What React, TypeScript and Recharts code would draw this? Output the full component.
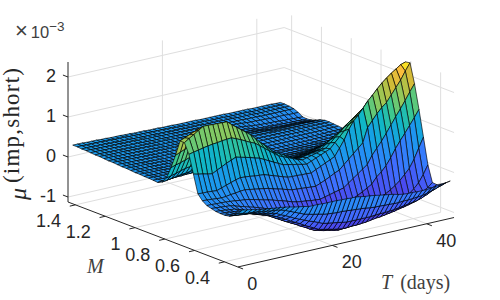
import { Scatter, ScatterChart, XAxis, YAxis } from 'recharts';

const tValues = Array.from({ length: 45 }, (_, i) => i + 1);
const mValues = [0.31, 0.34, 0.37, 0.4, 0.43, 0.46, 0.49, 0.52, 0.55, 0.58, 0.61, 0.64, 0.67, 0.7, 0.73, 0.76, 0.79, 0.82, 0.85, 0.88, 0.91, 0.94, 0.97, 1.0, 1.03, 1.06, 1.09, 1.12, 1.15, 1.18, 1.21, 1.24, 1.27, 1.3, 1.33, 1.36, 1.39, 1.42, 1.45];

// surface height at each M, T = 1..45, in units of 1e-5
const zM031 = [27,25,23,20,18,16,15,13,12,10,8,5,3,1,-2,-2,-2,-3,-3,-3,-3,-4,-4,-5,-5,-7,-9,-10,-12,-14,-16,-18,-20,-23,-25,-26,-26,-27,-27,-27,-26,-24,-23,-21,-19];
const zM034 = [15,12,10,9,8,6,4,2,1,-1,-5,-10,-15,-20,-25,-28,-31,-33,-36,-38,-39,-40,-40,-41,-42,-43,-44,-45,-47,-48,-48,-49,-49,-50,-50,-49,-49,-48,-47,-46,-43,-39,-36,-32,-28];
const zM037 = [5,4,2,1,0,-2,-5,-8,-11,-14,-20,-25,-31,-37,-42,-47,-52,-56,-61,-66,-68,-70,-72,-74,-76,-76,-76,-76,-76,-76,-75,-74,-74,-73,-72,-70,-68,-66,-64,-62,-58,-53,-47,-41,-35];
const zM040 = [-1,-2,-3,-4,-5,-8,-12,-15,-19,-23,-29,-35,-41,-48,-54,-60,-67,-73,-79,-85,-88,-90,-93,-95,-97,-97,-96,-96,-95,-94,-92,-90,-89,-87,-85,-83,-80,-78,-75,-72,-68,-61,-54,-47,-41];
const zM043 = [-3,-4,-5,-7,-8,-12,-16,-20,-24,-28,-34,-41,-47,-54,-60,-66,-73,-79,-86,-92,-95,-98,-100,-103,-105,-104,-103,-102,-101,-100,-98,-96,-94,-92,-90,-88,-85,-82,-79,-76,-71,-64,-57,-50,-40];
const zM046 = [-3,-4,-5,-7,-8,-12,-16,-20,-24,-28,-34,-40,-47,-54,-60,-66,-72,-78,-84,-90,-93,-96,-98,-101,-103,-102,-101,-100,-99,-98,-96,-93,-90,-88,-85,-82,-79,-76,-73,-70,-62,-52,-40,-22,0];
const zM049 = [-2,-3,-4,-6,-7,-11,-15,-20,-24,-28,-33,-38,-43,-49,-54,-59,-65,-70,-75,-80,-82,-84,-86,-88,-90,-89,-88,-87,-86,-85,-82,-78,-74,-70,-65,-60,-55,-48,-40,-30,-18,-5,15,40,65];
const zM052 = [1,0,-1,-2,-3,-6,-10,-13,-17,-20,-24,-28,-32,-36,-40,-44,-49,-53,-58,-62,-64,-65,-67,-68,-70,-69,-67,-66,-64,-62,-56,-50,-44,-37,-30,-15,-5,8,25,45,62,78,95,112,130];
const zM055 = [4,4,3,3,2,1,0,-2,-3,-5,-8,-11,-14,-17,-20,-24,-27,-31,-35,-38,-40,-41,-43,-44,-45,-42,-39,-36,-33,-30,-21,-12,-3,6,15,35,50,65,82,100,118,135,153,172,190];
const zM058 = [12,11,10,9,8,9,11,12,14,15,13,11,9,7,5,1,-2,-5,-9,-12,-13,-14,-15,-16,-17,-12,-7,-1,5,10,21,32,43,54,65,100,115,130,142,152,168,184,200,220,238];
const zM061 = [25,24,24,23,22,26,30,34,38,41,40,39,37,36,35,31,27,23,19,15,14,14,13,13,12,18,23,29,34,40,58,76,100,118,130,145,160,172,185,197,207,216,224,232,236];
const zM064 = [70,67,65,62,60,66,72,78,83,88,85,82,79,75,72,66,60,54,48,42,40,37,35,32,30,35,40,45,50,55,68,80,92,105,118,128,138,148,160,170,178,185,192,199,205];
const zM067 = [115,118,120,123,125,127,128,130,131,132,127,122,116,110,105,96,87,78,69,60,55,50,45,40,36,39,42,45,49,52,63,74,84,95,105,114,123,132,141,150,156,162,168,174,180];
const zM070 = [140,148,155,163,170,170,169,169,168,168,158,149,140,131,122,110,98,87,76,65,59,53,46,40,34,36,39,41,43,46,55,64,72,81,90,97,104,111,118,125,131,137,143,149,155];
const zM073 = [140,145,150,155,160,160,160,160,160,160,150,140,131,121,112,101,90,80,69,58,52,46,40,34,28,30,31,33,36,38,45,52,58,65,72,78,83,89,94,100,106,112,118,124,130];
const zM076 = [100,105,110,115,120,122,123,125,126,128,120,112,104,96,88,80,71,63,54,46,41,36,31,27,22,24,25,27,28,30,35,40,45,50,55,60,65,69,74,78,84,89,95,100,105];
const zM079 = [65,69,72,76,80,82,84,86,88,90,84,79,73,68,62,56,50,45,39,33,30,26,23,19,16,17,19,20,22,23,26,30,33,37,40,44,47,51,54,58,63,68,74,80,85];
const zM082 = [35,38,41,45,48,50,52,54,56,58,54,50,47,43,40,36,33,29,26,22,20,18,15,13,11,12,13,14,16,17,19,21,24,26,28,31,34,36,39,42,46,50,55,60,65];
const zM085 = [20,22,24,26,28,29,31,32,34,35,33,31,29,27,25,23,21,18,16,14,13,12,10,9,8,9,10,10,11,12,13,14,15,17,18,20,22,24,26,28,31,35,38,42,45];
const zM088 = [15,16,16,17,18,18,19,19,20,20,19,18,17,16,15,14,13,11,10,9,9,8,7,7,6,6,7,7,8,8,9,9,10,11,12,13,14,15,17,18,20,23,25,28,30];
const zM091 = [16,16,15,15,15,15,15,14,14,14,13,13,12,12,11,10,9,9,8,7,7,6,6,5,5,5,5,6,6,6,6,7,7,8,8,9,10,10,11,12,13,15,16,18,20];
const zM094 = [17,17,16,16,16,15,15,14,13,12,12,11,11,10,10,9,8,8,7,6,6,6,5,5,5,5,5,6,6,6,6,6,6,6,6,7,7,8,8,9,10,11,12,14,15];
const zM097 = [17,17,16,16,16,15,14,14,13,12,12,11,11,10,10,9,9,8,8,7,7,7,6,6,6,6,6,6,5,5,5,5,5,5,5,5,6,6,7,7,8,9,9,10,11];
const zM100 = [18,18,17,17,17,16,15,14,13,12,12,12,11,11,11,10,10,9,9,8,8,8,7,7,7,7,7,6,6,6,6,6,6,6,6,6,6,7,7,7,8,8,9,9,10];
const zM103 = [18,18,18,17,17,16,15,15,14,13,13,13,12,12,12,12,11,11,10,10,10,10,10,9,9,9,9,9,8,8,8,8,8,8,8,8,8,8,8,8,8,9,9,9,10];
const zM106 = [19,19,18,18,18,17,16,16,15,14,14,14,13,13,13,13,12,12,11,11,11,11,10,10,10,10,10,10,10,10,10,10,10,10,10,10,10,10,10,10,10,10,11,11,11];
const zM109 = [20,20,19,19,19,18,17,17,16,15,15,15,14,14,14,14,14,13,13,13,13,12,12,12,12,12,12,12,12,12,12,12,12,12,12,12,12,12,12,12,12,12,12,12,12];
const zM112 = [20,20,20,19,19,18,18,17,17,16,16,16,15,15,15,15,15,14,14,14,14,14,14,13,13,13,13,13,13,13,13,13,13,13,13,13,13,13,13,13,13,13,13,13,13];
const zM115 = [21,21,20,20,20,19,19,18,18,17,17,17,16,16,16,16,16,15,15,15,15,15,15,14,14,14,14,14,14,14,14,14,14,13,13,13,13,13,13,13,13,13,13,13,13];
const zM118 = [22,22,21,21,21,20,20,19,19,18,18,18,17,17,17,17,17,16,16,16,16,15,15,15,14,14,14,14,14,14,14,13,13,12,11,11,11,11,11,11,11,11,10,10,10];
const zM121 = [22,22,22,21,21,21,20,20,19,19,19,19,18,18,18,18,17,17,17,16,16,16,15,15,14,14,14,14,14,13,12,11,10,9,8,8,8,7,7,7,7,6,6,5,5];
const zM124 = [23,23,23,22,22,22,21,21,20,20,20,19,19,18,18,18,17,17,17,16,16,16,15,15,14,14,14,13,13,12,10,9,8,6,5,5,4,4,3,3,3,2,2,1,1];
const zM127 = [24,24,23,23,23,23,22,22,21,21,21,20,20,19,19,19,18,18,18,17,17,16,16,15,14,14,14,13,13,12,10,9,7,5,4,3,3,2,2,1,1,0,0,-1,-1];
const zM130 = [24,24,24,23,23,23,22,22,21,21,21,21,20,20,20,20,19,19,18,18,17,17,16,16,15,15,15,14,14,13,12,10,9,7,6,5,5,4,4,3,2,2,1,1,0];
const zM133 = [25,25,25,24,24,24,23,23,22,22,22,21,21,20,20,20,19,19,19,18,18,18,17,17,16,16,16,15,15,14,13,13,12,11,10,10,9,9,8,8,8,8,7,7,7];
const zM136 = [26,26,25,25,25,24,24,24,23,23,23,22,22,21,21,21,20,20,20,19,19,18,18,18,17,17,16,16,15,15,15,14,14,14,13,13,13,12,12,12,12,12,12,12,12];
const zM139 = [26,26,26,25,25,25,24,24,23,23,23,22,22,21,21,21,20,20,20,19,19,19,18,18,18,18,17,17,17,17,16,16,16,15,15,15,15,14,14,14,14,14,14,14,14];
const zM142 = [27,27,26,26,26,26,25,25,24,24,24,23,23,22,22,22,21,21,21,20,20,19,19,18,18,18,18,18,17,17,17,17,16,16,16,16,16,15,15,15,15,15,15,15,15];
const zM145 = [27,27,27,26,26,26,25,25,24,24,24,23,23,22,22,22,21,21,21,20,20,20,19,19,19,19,19,18,18,18,18,18,18,17,17,17,17,17,16,16,16,16,16,15,15];

const zRows = [zM031, zM034, zM037, zM040, zM043, zM046, zM049, zM052, zM055, zM058, zM061, zM064, zM067, zM070, zM073, zM076, zM079, zM082, zM085, zM088, zM091, zM094, zM097, zM100, zM103, zM106, zM109, zM112, zM115, zM118, zM121, zM124, zM127, zM130, zM133, zM136, zM139, zM142, zM145];

const zTicks = [-1, 0, 1, 2];
const mTicks = [1.4, 1.2, 1, 0.8, 0.6, 0.4];
const tTicks = [0, 20, 40];
const parula = ['#3e26a8', '#4a4af0', '#3e70ff', '#2a8af8', '#169ee8', '#10b6c6', '#3cc890', '#8fc95c', '#cfbb37', '#fbbe3c', '#f9fb15'];

const T_MAX = 45.8;
const M_MIN = 0.31;
const M_MAX = 1.45;
const Z_MIN = -1.125;
const Z_MAX = 2.375;
const GRID = '#dedede';
const INK = '#262626';

// hand-fitted view of the 3D box: everything lands in page pixels
const project = (t: number, m: number, z: number) => ({
  x: 68 + 149 * (M_MAX - m) + 4.72 * t,
  y: 202 + 57 * (M_MAX - m) - 1.08 * t - 40 * (z - Z_MIN),
});

function colorAt(z: number) {
  const f = Math.min(0.9999, Math.max(0, (z + 1.05) / 3.4)) * (parula.length - 1);
  const i = Math.floor(f);
  const hex = (c: string, k: number) => parseInt(c.slice(k, k + 2), 16);
  const mix = (k: number) => Math.round(hex(parula[i], k) + (hex(parula[i + 1], k) - hex(parula[i], k)) * (f - i));
  return `rgb(${mix(1)},${mix(3)},${mix(5)})`;
}

const quads = [] as { x: number; y: number; depth: number; fill: string; corners: { x: number; y: number }[] }[];
mValues.slice(0, -1).forEach((m, i) => {
  tValues.slice(0, -1).forEach((t, j) => {
    const m2 = mValues[i + 1];
    const t2 = tValues[j + 1];
    const corners = [
      project(t, m, zRows[i][j] / 100),
      project(t2, m, zRows[i][j + 1] / 100),
      project(t2, m2, zRows[i + 1][j + 1] / 100),
      project(t, m2, zRows[i + 1][j] / 100),
    ];
    quads.push({
      x: corners[0].x,
      y: corners[0].y,
      depth: project(t, m, Z_MIN).y + project(t2, m2, Z_MIN).y,
      fill: colorAt(zRows[i][j] / 100),
      corners,
    });
  });
});
quads.sort((a, b) => a.depth - b.depth);

const gridLines = [
  ...zTicks.map((z) => [project(0, M_MAX, z), project(T_MAX, M_MAX, z), project(T_MAX, M_MIN, z)]),
  ...[20, 40].map((t) => [project(t, M_MIN, Z_MIN), project(t, M_MAX, Z_MIN), project(t, M_MAX, Z_MAX)]),
  ...mTicks.map((m) => [project(0, m, Z_MIN), project(T_MAX, m, Z_MIN), project(T_MAX, m, Z_MAX)]),
];

const axisLines = [
  [project(0, M_MAX, Z_MAX), project(0, M_MAX, Z_MIN), project(0, M_MIN, Z_MIN), project(T_MAX, M_MIN, Z_MIN)],
  ...zTicks.map((z) => [project(0, M_MAX, z), project(0, M_MAX + 0.034, z)]),
  ...mTicks.map((m) => [project(0, m, Z_MIN), project(-1.2, m, Z_MIN)]),
  ...tTicks.map((t) => [project(t, M_MIN, Z_MIN), project(t, M_MIN - 0.035, Z_MIN)]),
];

const tickTexts = [
  ...zTicks.map((z) => ({ x: 56, y: project(0, M_MAX, z).y - 1, text: String(z), anchor: 'end' })),
  ...mTicks.map((m) => {
    const p = project(0, m, Z_MIN);
    return { x: p.x - 14.5, y: p.y + 16, text: String(m), anchor: 'end' };
  }),
  ...tTicks.map((t) => {
    const p = project(t, M_MIN, Z_MIN);
    return { x: p.x + 9.5, y: p.y + 17, text: String(t), anchor: 'start' };
  }),
];

function QuadShape(props: any) {
  const { cx, cy, payload } = props;
  const dx = cx - payload.x;
  const dy = cy - payload.y;
  const pts = payload.corners.map((c: { x: number; y: number }) => `${c.x + dx},${c.y + dy}`).join(' ');
  return <polygon points={pts} fill={payload.fill} stroke="#000" strokeWidth={0.65} strokeLinejoin="round" />;
}

function TickText(props: any) {
  const { cx, cy, payload } = props;
  return (
    <text x={cx} y={cy} textAnchor={payload.anchor} dominantBaseline="central" fontFamily="Liberation Sans" fontSize={18} fill={INK}>
      {payload.text}
    </text>
  );
}

function Exponent(props: any) {
  const { cx, cy } = props;
  return (
    <text x={cx} y={cy} fontFamily="Liberation Sans" fontSize={16.5} fill="#404040">
      <tspan fontSize={22}>×</tspan>
      <tspan dx={3}>10</tspan>
      <tspan dy={-7} fontSize={13.5}>−3</tspan>
    </text>
  );
}

function ZTitle(props: any) {
  const { cx, cy } = props;
  return (
    <g fontFamily="Liberation Serif" fill={INK}>
      <text transform={`rotate(-90 ${cx} ${cy})`} x={cx} y={cy} fontSize={24} fontStyle="italic">μ</text>
      <text transform={`rotate(-90 ${cx - 7.5} ${cy - 17})`} x={cx - 7.5} y={cy - 17} fontSize={23} textLength={115} lengthAdjust="spacing">(imp,short)</text>
    </g>
  );
}

function MTitle(props: any) {
  const { cx, cy } = props;
  return (
    <text x={cx} y={cy} fontFamily="Liberation Serif" fontStyle="italic" fontSize={20} fill="#404040">M</text>
  );
}

function TTitle(props: any) {
  const { cx, cy } = props;
  return (
    <text x={cx} y={cy} fontFamily="Liberation Serif" fontSize={20} fill="#404040">
      <tspan fontStyle="italic">T</tspan>
      <tspan dx={8}>(days)</tspan>
    </text>
  );
}

const NoDot = () => <g />;

export default function App() {
  return (
    <div style={{ position: 'absolute', left: 0, top: 0, width: 500, height: 300 }}>
      <ScatterChart width={500} height={300} margin={{ top: 0, right: 0, bottom: 0, left: 0 }}>
        <XAxis type="number" dataKey="x" domain={[0, 500]} hide />
        <YAxis type="number" dataKey="y" domain={[0, 300]} reversed hide />
        {gridLines.map((pts, i) => (
          <Scatter key={`g${i}`} data={pts} line={{ stroke: GRID, strokeWidth: 1 }} shape={NoDot} isAnimationActive={false} />
        ))}
        {axisLines.map((pts, i) => (
          <Scatter key={`a${i}`} data={pts} line={{ stroke: INK, strokeWidth: 1 }} shape={NoDot} isAnimationActive={false} />
        ))}
        <Scatter data={quads} shape={QuadShape} isAnimationActive={false} />
        <Scatter data={tickTexts} shape={TickText} isAnimationActive={false} />
        <Scatter data={[{ x: 15, y: 38 }]} shape={Exponent} isAnimationActive={false} />
        <Scatter data={[{ x: 26, y: 200 }]} shape={ZTitle} isAnimationActive={false} />
        <Scatter data={[{ x: 87, y: 273 }]} shape={MTitle} isAnimationActive={false} />
        <Scatter data={[{ x: 381, y: 289 }]} shape={TTitle} isAnimationActive={false} />
      </ScatterChart>
    </div>
  );
}
